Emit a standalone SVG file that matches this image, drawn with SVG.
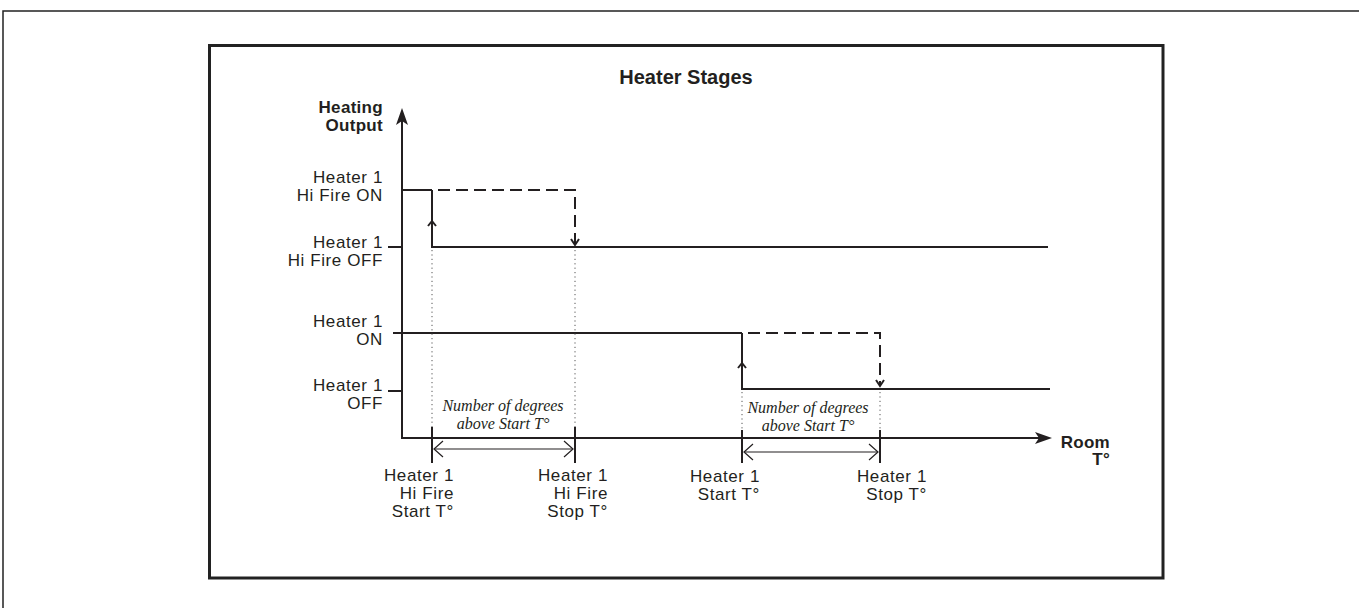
<svg xmlns="http://www.w3.org/2000/svg" width="1359" height="608" viewBox="0 0 1359 608">
<style>
.ln{stroke:#231f20;stroke-width:2;fill:none}
.thin{stroke:#231f20;stroke-width:1.2;fill:none}
.dash{stroke-dasharray:12,6}
.dot{stroke:#555;stroke-width:1;fill:none;stroke-dasharray:1.2,3.2}
.lbl{font-family:"Liberation Sans",Arial,sans-serif;font-size:17px;fill:#231f20;letter-spacing:0.6px}
.b{font-weight:bold;letter-spacing:0.3px}
.ttl{font-family:"Liberation Sans",Arial,sans-serif;font-size:20px;font-weight:bold;fill:#231f20}
.it{font-family:"Liberation Serif","Times New Roman",serif;font-style:italic;font-size:16px;fill:#231f20}
</style>
<rect width="1359" height="608" fill="#fff"/>
<path d="M3,608 V11 H1359" fill="none" stroke="#222" stroke-width="1.5"/>
<rect x="209.5" y="45.5" width="953.5" height="532.5" fill="none" stroke="#222" stroke-width="3"/>
<text class="ttl" x="686" y="84" text-anchor="middle">Heater Stages</text>
<g id="axes">
<line class="ln" x1="402" y1="439" x2="402" y2="120"/>
<polygon points="402,108 396,125 402,121 408,125" fill="#231f20"/>
<line class="ln" x1="401" y1="438" x2="1040" y2="438"/>
<polygon points="1052,438 1035,432 1039,438 1035,444" fill="#231f20"/>
<text class="lbl b" x="383" y="113" text-anchor="end">Heating</text>
<text class="lbl b" x="383" y="131" text-anchor="end">Output</text>
<text class="lbl b" x="1110" y="448" text-anchor="end">Room</text>
<text class="lbl b" x="1110" y="465" text-anchor="end">T°</text>
</g>
<g id="level-labels">
<text class="lbl" x="383" y="183" text-anchor="end">Heater 1</text>
<text class="lbl" x="383" y="201" text-anchor="end">Hi Fire ON</text>
<text class="lbl" x="383" y="248" text-anchor="end">Heater 1</text>
<text class="lbl" x="383" y="266" text-anchor="end">Hi Fire OFF</text>
<text class="lbl" x="383" y="327" text-anchor="end">Heater 1</text>
<text class="lbl" x="383" y="345" text-anchor="end">ON</text>
<text class="lbl" x="383" y="391" text-anchor="end">Heater 1</text>
<text class="lbl" x="383" y="409" text-anchor="end">OFF</text>
</g>
<g id="connectors">
<line class="ln" x1="388" y1="247" x2="402" y2="247"/>
<line class="ln" x1="388" y1="391" x2="402" y2="391"/>
<line class="ln" x1="401" y1="190" x2="432" y2="190"/>
<polyline class="ln dash" points="438,190 575,190 575,244"/>
<polyline class="ln" points="432,190 432,247 1048,247"/>
<polyline class="ln" points="428,226 432,221 436,226"/>
<polyline class="ln" points="571,239 575,245 579,239"/>
<line class="ln" x1="393" y1="333" x2="742" y2="333"/>
<polyline class="ln dash" points="748,333 880,333 880,386"/>
<polyline class="ln" points="742,333 742,389 1050,389"/>
<polyline class="ln" points="738,368 742,363 746,368"/>
<polyline class="ln" points="876,380 880,386 884,380"/>
<line class="dot" x1="432" y1="250" x2="432" y2="427"/>
<line class="dot" x1="575" y1="250" x2="575" y2="427"/>
<line class="dot" x1="742" y1="392" x2="742" y2="430"/>
<line class="dot" x1="880" y1="392" x2="880" y2="430"/>
<line class="ln" x1="432" y1="427" x2="432" y2="463"/>
<line class="ln" x1="575" y1="427" x2="575" y2="463"/>
<line class="ln" x1="742" y1="430" x2="742" y2="463"/>
<line class="ln" x1="880" y1="430" x2="880" y2="463"/>
<line class="thin" x1="434" y1="449" x2="573" y2="449"/>
<polyline class="thin" points="443,441 434,449 443,457"/>
<polyline class="thin" points="564,441 573,449 564,457"/>
<line class="thin" x1="744" y1="452" x2="878" y2="452"/>
<polyline class="thin" points="753,444 744,452 753,460"/>
<polyline class="thin" points="869,444 878,452 869,460"/>
</g>
<g id="span-labels">
<text class="it" x="503" y="411" text-anchor="middle">Number of degrees</text>
<text class="it" x="503" y="429" text-anchor="middle">above Start T°</text>
<text class="it" x="808" y="413" text-anchor="middle">Number of degrees</text>
<text class="it" x="808" y="431" text-anchor="middle">above Start T°</text>
</g>
<g id="x-labels">
<text class="lbl" x="454" y="481" text-anchor="end">Heater 1</text>
<text class="lbl" x="454" y="499" text-anchor="end">Hi Fire</text>
<text class="lbl" x="454" y="517" text-anchor="end">Start T°</text>
<text class="lbl" x="608" y="481" text-anchor="end">Heater 1</text>
<text class="lbl" x="608" y="499" text-anchor="end">Hi Fire</text>
<text class="lbl" x="608" y="517" text-anchor="end">Stop T°</text>
<text class="lbl" x="760" y="482" text-anchor="end">Heater 1</text>
<text class="lbl" x="760" y="500" text-anchor="end">Start T°</text>
<text class="lbl" x="927" y="482" text-anchor="end">Heater 1</text>
<text class="lbl" x="927" y="500" text-anchor="end">Stop T°</text>
</g>
</svg>
